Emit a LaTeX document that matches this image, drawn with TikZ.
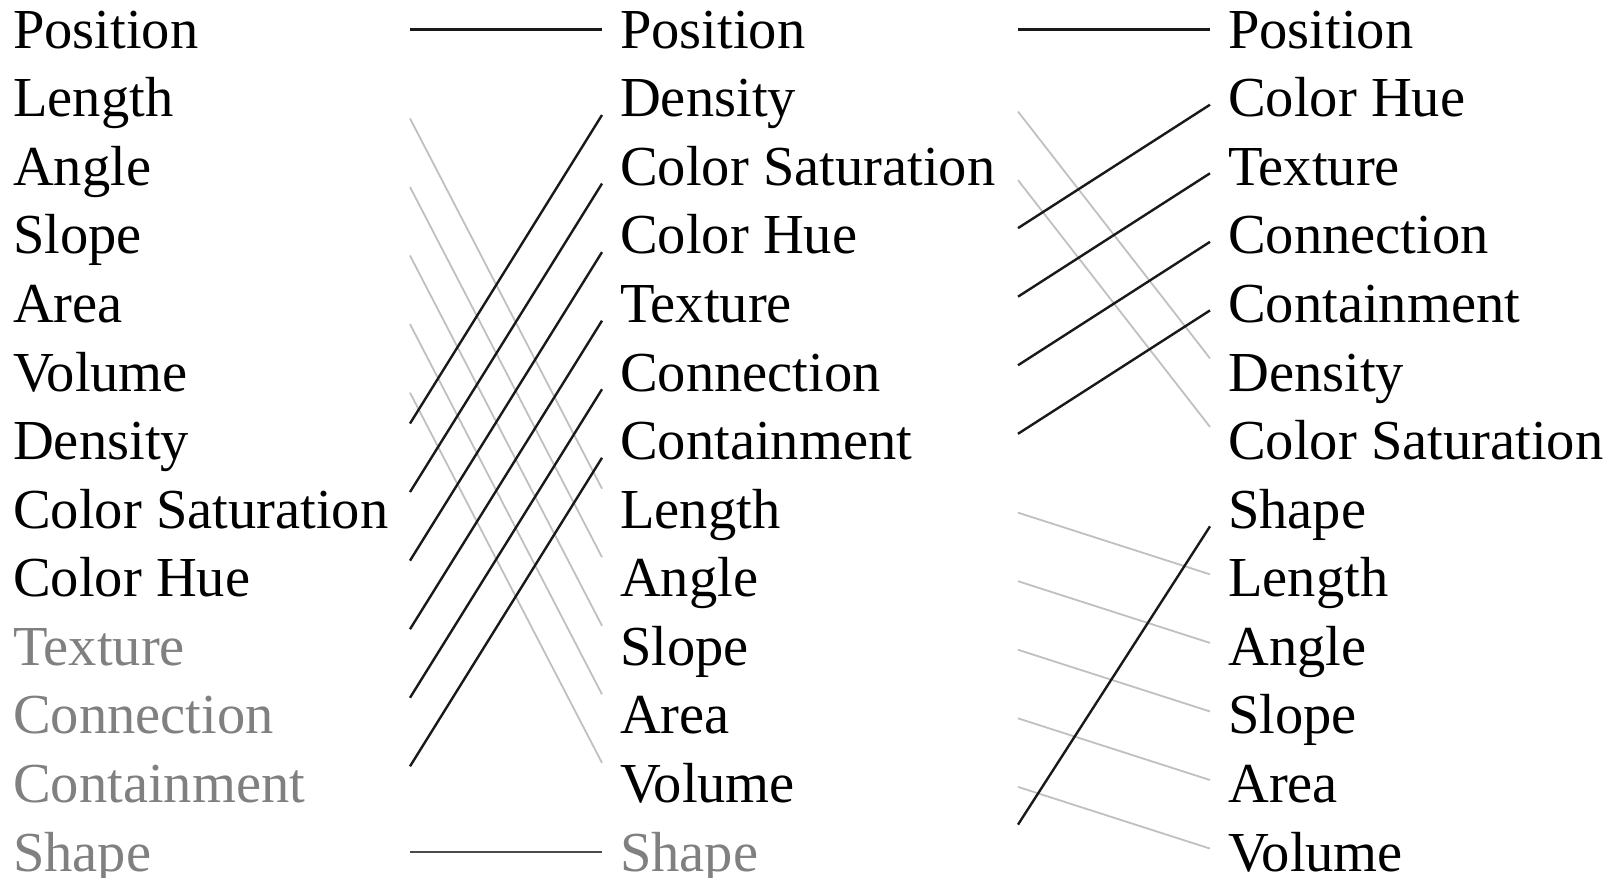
\documentclass[tikz,border=0pt]{standalone}
\usepackage{fontspec}
\setmainfont{Liberation Serif}
\usetikzlibrary{calc}
\definecolor{txtgray}{RGB}{128,128,128}
\definecolor{linegray}{RGB}{192,192,192}
\begin{document}
\begin{tikzpicture}[x=1pt,y=-1pt,
  lbl/.style={anchor=base west, inner sep=0pt, font=\fontsize{56.5}{60}\selectfont},
  blk/.style={draw=black!90, line width=2.4pt},
  gry/.style={draw=linegray, line width=1.8pt},
  shp/.style={draw=black!70, line width=2.8pt}]
\useasboundingbox (0,0) rectangle (1623,878);
% row anchors in the two gaps
\foreach \i in {0,...,12} {
  \pgfmathsetmacro\yy{29.3+68.56*\i}
  \coordinate (aL-\i) at (410,\yy);
  \coordinate (aR-\i) at (602,\yy);
  \coordinate (bL-\i) at (1018,\yy);
  \coordinate (bR-\i) at (1210,\yy);
}
% column 1
\foreach \t/\c [count=\n from 0] in {Position/black, Length/black, Angle/black, Slope/black, Area/black, Volume/black, Density/black, Color Saturation/black, Color Hue/black, Texture/txtgray, Connection/txtgray, Containment/txtgray, Shape/txtgray}
  \node[lbl, text=\c] (c1-\n) at (13,{48.3+68.56*\n}) {\t};
% column 2
\foreach \t/\c [count=\n from 0] in {Position/black, Density/black, Color Saturation/black, Color Hue/black, Texture/black, Connection/black, Containment/black, Length/black, Angle/black, Slope/black, Area/black, Volume/black, Shape/txtgray}
  \node[lbl, text=\c] (c2-\n) at (620,{48.3+68.56*\n}) {\t};
% column 3
\foreach \t/\c [count=\n from 0] in {Position/black, Color Hue/black, Texture/black, Connection/black, Containment/black, Density/black, Color Saturation/black, Shape/black, Length/black, Angle/black, Slope/black, Area/black, Volume/black}
  \node[lbl, text=\c] (c3-\n) at (1228,{48.3+68.56*\n}) {\t};
% gap A (column 1 -> column 2)
\foreach \i/\j in {1/7,2/8,3/9,4/10,5/11}
  \draw[gry] ($(aL-\i)!0.05!(aL-\j)$) -- ($(aR-\j)!0.05!(aR-\i)$);
\draw[blk] (aL-0) -- (aR-0);
\foreach \i/\j in {6/1,7/2,8/3,9/4,10/5,11/6}
  \draw[blk] ($(aL-\i)!0.05!(aL-\j)$) -- ($(aR-\j)!0.05!(aR-\i)$);
\draw[shp] (aL-12) -- (aR-12);
% gap B (column 2 -> column 3)
\foreach \i/\j in {1/5,2/6,7/8,8/9,9/10,10/11,11/12}
  \draw[gry] ($(bL-\i)!0.05!(bL-\j)$) -- ($(bR-\j)!0.05!(bR-\i)$);
\draw[blk] (bL-0) -- (bR-0);
\foreach \i/\j in {3/1,4/2,5/3,6/4}
  \draw[blk] ($(bL-\i)!0.05!(bL-\j)$) -- ($(bR-\j)!0.05!(bR-\i)$);
\draw[blk] ($(bL-12)!0.08!(bL-7)$) -- ($(bR-7)!0.05!(bR-12)$);
\end{tikzpicture}
\end{document}
